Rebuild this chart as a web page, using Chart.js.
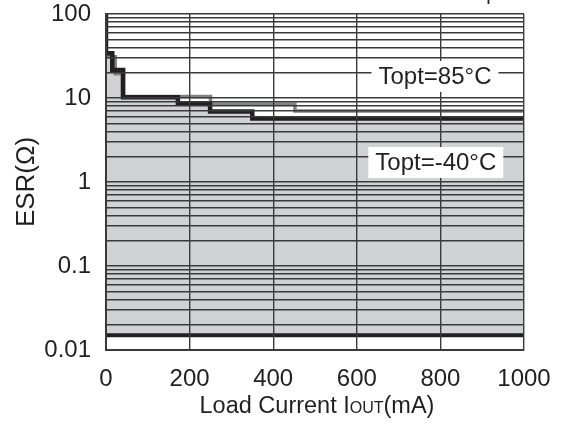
<!DOCTYPE html>
<html>
<head>
<meta charset="utf-8">
<script src="https://cdn.jsdelivr.net/npm/chart.js@4.4.1/dist/chart.umd.min.js"></script>
<style>
    html, body { margin: 0; padding: 0; background: #fff; }
    #wrap { width: 564px; height: 427px; }
</style>
</head>
<body>
<div id="wrap"><canvas id="esrChart" width="564" height="427"></canvas></div>
<script>
// Stable region boundaries (x in mA, y in ohm), stepped
const blackStepX = [0, 0, 15, 41, 172, 249, 350, 1000];
const blackStepY = [100, 34, 21.5, 10.2, 8.6, 6.9, 5.7, 5.7];

const greyStepX = [0, 22, 39, 250, 452, 1000];
const greyStepY = [31, 19.5, 10.4, 8.4, 7.0, 7.0];

// lower ESR limit
const lowLimitX = [0, 1000];
const lowLimitY = [0.015, 0.015];

// axis ticks
const currentTicks = [0, 200, 400, 600, 800, 1000];
const esrDecades = [0.01, 0.1, 1, 10, 100];
const esrGrid = esrDecades.slice(0, -1)
    .flatMap(d => [1, 2, 3, 4, 5, 6, 7, 8, 9].map(k => d * k))
    .concat([100]);

// label boxes inside the plot
const tempLabels = [
    { text: 'Topt=85\u00B0C', x: 787, y: 18.3 },
    { text: 'Topt=-40\u00B0C', x: 789, y: 1.73 }
];

const FONT = '"Liberation Sans", Arial, Helvetica, sans-serif';
const INK = '#231f20';
const GRID = '#3a3a3a';

const toPoints = (xs, ys) => xs.map((x, i) => ({ x: x, y: ys[i] }));

// Draw the in-plot labels, the x title (with small OUT) and the clipped header
const overlayText = {
    id: 'overlayText',
    afterDraw(chart) {
        const ctx = chart.ctx;
        const xs = chart.scales.x, ys = chart.scales.y;
        ctx.save();

        ctx.font = '24px ' + FONT;
        ctx.textBaseline = 'middle';
        ctx.textAlign = 'center';
        tempLabels.forEach(l => {
            const w = ctx.measureText(l.text).width;
            const cx = xs.getPixelForValue(l.x);
            const cy = ys.getPixelForValue(l.y);
            ctx.fillStyle = '#fff';
            ctx.fillRect(cx - w / 2 - 7, cy - 15, w + 14, 31);
            ctx.fillStyle = INK;
            ctx.fillText(l.text, cx, cy + 1);
        });

        // x axis title: Load Current IOUT(mA)
        const parts = [
            { t: 'Load Current I', f: '23.5px ' + FONT },
            { t: 'OUT', f: '16px ' + FONT },
            { t: '(mA)', f: '23.5px ' + FONT }
        ];
        let total = 0;
        parts.forEach(p => { ctx.font = p.f; p.w = ctx.measureText(p.t).width; total += p.w; });
        let px = (chart.chartArea.left + chart.chartArea.right) / 2 + 2 - total / 2;
        ctx.textAlign = 'left';
        ctx.textBaseline = 'alphabetic';
        ctx.fillStyle = INK;
        parts.forEach(p => { ctx.font = p.f; ctx.fillText(p.t, px, 413); px += p.w; });

        // header, mostly cut off at the top of the picture
        ctx.font = '20px ' + FONT;
        ctx.textAlign = 'right';
        ctx.fillText('CIN=COUT=Ceramic 2.2\u03BCF', 510, 0);

        ctx.restore();
    }
};

const ctx = document.getElementById('esrChart').getContext('2d');

const esrChart = new Chart(ctx, {
    type: 'line',
    data: {
        datasets: [{
            label: 'black',
            data: toPoints(blackStepX, blackStepY),
            stepped: 'before',
            borderColor: INK,
            borderWidth: 4.5,
            backgroundColor: '#d1d2d4',
            fill: { value: 0.015 },
            pointRadius: 0,
            order: 0
        }, {
            label: 'grey',
            data: toPoints(greyStepX, greyStepY),
            stepped: 'before',
            borderColor: '#7f8284',
            borderWidth: 3.5,
            fill: false,
            pointRadius: 0,
            order: 1
        }, {
            label: 'low limit',
            data: toPoints(lowLimitX, lowLimitY),
            borderColor: INK,
            borderWidth: 4,
            fill: false,
            pointRadius: 0,
            order: 2
        }]
    },
    options: {
        responsive: false,
        animation: false,
        devicePixelRatio: 1,
        layout: { padding: { top: 14, right: 40, left: 0, bottom: 0 } },
        plugins: {
            legend: { display: false },
            tooltip: { enabled: false },
            filler: { drawTime: 'beforeDatasetsDraw' }
        },
        scales: {
            x: {
                type: 'linear',
                min: 0,
                max: 1000,
                afterFit: (scale) => {
                    scale.height = 77;
                    scale.paddingLeft = 0;
                    scale.paddingRight = 0;
                },
                afterBuildTicks: (scale) => { scale.ticks = currentTicks.map(v => ({ value: v })); },
                grid: { color: GRID, lineWidth: 1.4, drawTicks: false, z: 1 },
                border: { color: GRID, width: 2, z: 2 },
                ticks: {
                    padding: 15,
                    color: INK,
                    font: { family: FONT, size: 24 },
                    maxRotation: 0,
                    autoSkip: false,
                    callback: (value) => String(value)
                }
            },
            y: {
                type: 'logarithmic',
                min: 0.01,
                max: 100,
                afterFit: (scale) => {
                    scale.width = 106;
                    scale.paddingTop = 0;
                    scale.paddingBottom = 0;
                },
                afterBuildTicks: (scale) => { scale.ticks = esrGrid.map(v => ({ value: v })); },
                grid: { color: GRID, lineWidth: 1.4, drawTicks: false, z: 1 },
                border: { color: GRID, width: 2, z: 2 },
                ticks: {
                    padding: 15,
                    color: INK,
                    autoSkip: false,
                    font: { family: FONT, size: 24 },
                    callback: (value) => esrDecades.includes(value) ? String(value) : ''
                },
                title: {
                    display: true,
                    text: 'ESR(\u03A9)',
                    color: INK,
                    font: { family: FONT, size: 26 },
                    padding: { top: 11, bottom: 0 }
                }
            }
        }
    },
    plugins: [overlayText]
});
</script>
</body>
</html>
